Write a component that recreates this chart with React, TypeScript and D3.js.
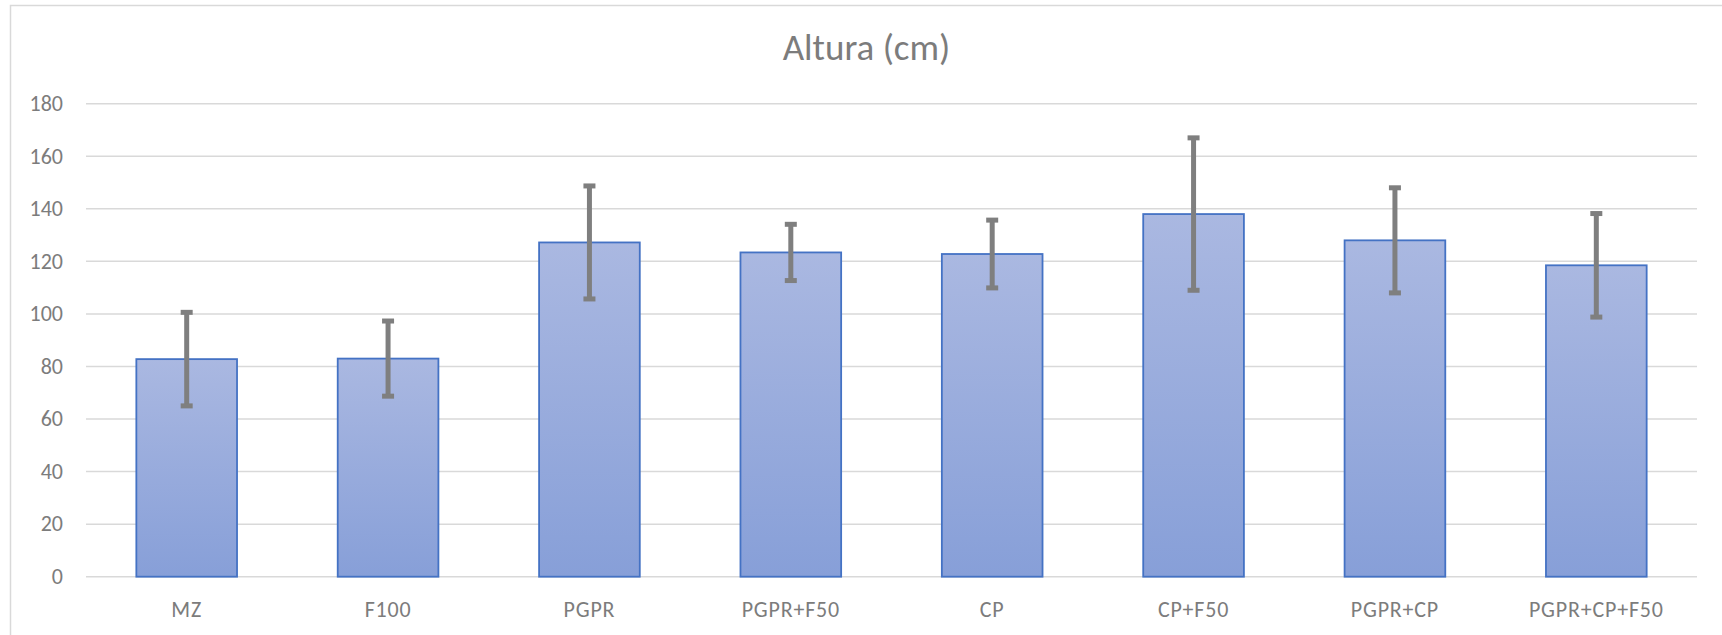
import React from "react";
import * as d3 from "d3";

const categories = ["MZ", "F100", "PGPR", "PGPR+F50", "CP", "CP+F50", "PGPR+CP", "PGPR+CP+F50"];
const means = [82.8, 83.0, 127.2, 123.4, 122.8, 138.0, 128.0, 118.5];
const errors = [17.8, 14.3, 21.5, 10.7, 12.9, 29.0, 20.0, 19.7];
const yTicks = [0, 20, 40, 60, 80, 100, 120, 140, 160, 180];
const title = "Altura (cm)";

const W = 1722;
const H = 635;
const plot = { left: 86, right: 1697, top: 103.7, bottom: 576.7 };
const FONT = "Carlito, Lato, 'Open Sans', sans-serif";
const TEXT = "#7c7c7c";
const TICK_FS = 22;

export default function App() {
  const x = d3
    .scaleBand<string>()
    .domain(categories)
    .range([plot.left, plot.right])
    .paddingInner(0.5)
    .paddingOuter(0.25);
  const y = d3.scaleLinear().domain([0, 180]).range([plot.bottom, plot.top]);
  const bw = x.bandwidth();

  return (
    <svg
      width={W}
      height={H}
      style={{ position: "absolute", left: 0, top: 0, background: "#fff" }}
    >
      <defs>
        <linearGradient id="barGrad" x1="0" y1="0" x2="0" y2="1">
          <stop offset="0" stopColor="#aab8e1" />
          <stop offset="1" stopColor="#879fd8" />
        </linearGradient>
      </defs>
      <rect x={0} y={0} width={W} height={H} fill="#fff" />
      <rect x={10.5} y={5.5} width={1740} height={700} fill="none" stroke="#d9d9d9" strokeWidth={1.5} />
      <text
        x={866.5}
        y={60}
        textAnchor="middle"
        fontFamily={FONT}
        fontSize={37}
        fill={TEXT}
      >
        {title}
      </text>
      {yTicks.map((t) => (
        <g key={t}>
          <line
            x1={plot.left}
            x2={plot.right}
            y1={y(t)}
            y2={y(t)}
            stroke="#d9d9d9"
            strokeWidth={1.5}
          />
          <text
            x={63}
            y={y(t)}
            dy="0.33em"
            textAnchor="end"
            fontFamily={FONT}
            fontSize={TICK_FS}
            fill={TEXT}
          >
            {t}
          </text>
        </g>
      ))}
      {categories.map((c, i) => {
        const x0 = x(c) as number;
        const cx = x0 + bw / 2;
        const top = y(means[i] + errors[i]);
        const bot = y(means[i] - errors[i]);
        return (
          <g key={c}>
            <rect
              x={x0}
              y={y(means[i])}
              width={bw}
              height={y(0) - y(means[i])}
              fill="url(#barGrad)"
              stroke="#4472c4"
              strokeWidth={1.8}
            />
            <line x1={cx} x2={cx} y1={top} y2={bot} stroke="#7f7f7f" strokeWidth={5} />
            <line x1={cx - 6} x2={cx + 6} y1={top} y2={top} stroke="#7f7f7f" strokeWidth={5} />
            <line x1={cx - 6} x2={cx + 6} y1={bot} y2={bot} stroke="#7f7f7f" strokeWidth={5} />
            <text
              x={cx}
              y={616.5}
              textAnchor="middle"
              fontFamily={FONT}
              fontSize={TICK_FS}
              letterSpacing={0.8}
              fill={TEXT}
            >
              {c}
            </text>
          </g>
        );
      })}
    </svg>
  );
}
